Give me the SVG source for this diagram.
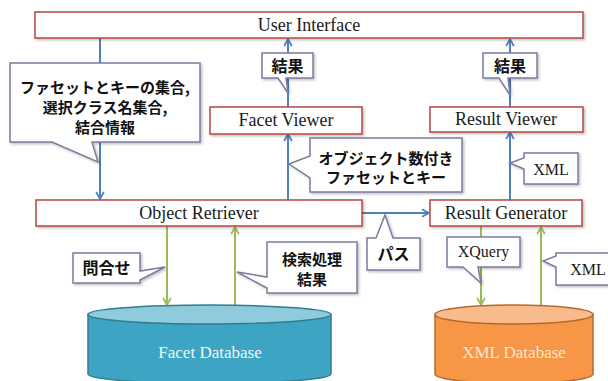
<svg xmlns="http://www.w3.org/2000/svg" width="608" height="381" viewBox="0 0 608 381">
<style>
.box{fill:#fff;stroke:#b9504d;stroke-width:1.6;filter:url(#sh)}
.en{font-family:"Liberation Serif","Times New Roman",serif;font-size:18px;fill:#1a1a1a;text-anchor:middle}
.ens{font-family:"Liberation Serif","Times New Roman",serif;font-size:16px;fill:#1a1a1a;text-anchor:middle}
.jp{font-family:"Noto Sans CJK JP","Noto Sans",sans-serif;font-weight:bold;font-size:16px;fill:#111;text-anchor:middle}
.jp15{font-size:15px}
.call{fill:#fff;stroke:#7b7ba0;stroke-width:1.5;stroke-linejoin:miter;filter:url(#sh)}
.blue{stroke:#4f81bd;stroke-width:2;fill:none;marker-end:url(#ab)}
.green{stroke:#9bbb59;stroke-width:2;fill:none;marker-end:url(#ag)}
.dbt{font-family:"Liberation Serif","Times New Roman",serif;font-size:17px;text-anchor:middle}
</style>
<defs>
<filter id="sh" x="-10%" y="-20%" width="130%" height="150%">
<feDropShadow dx="1.5" dy="1.5" stdDeviation="1.2" flood-color="#000" flood-opacity="0.25"/>
</filter>
<marker id="ab" viewBox="0 0 10 10" refX="9" refY="5" markerWidth="10" markerHeight="10" markerUnits="userSpaceOnUse" orient="auto">
<path d="M2,1.2 L9,5 L2,8.8" fill="none" stroke="#4f81bd" stroke-width="1.8"/>
</marker>
<marker id="ag" viewBox="0 0 10 10" refX="9" refY="5" markerWidth="10" markerHeight="10" markerUnits="userSpaceOnUse" orient="auto">
<path d="M2,1.2 L9,5 L2,8.8" fill="none" stroke="#9bbb59" stroke-width="1.8"/>
</marker>
</defs>
<rect width="608" height="381" fill="#fff"/>

<g id="connectors">
<line class="blue" x1="100" y1="38" x2="100" y2="199"/>
<line class="blue" x1="288" y1="107" x2="288" y2="39"/>
<line class="blue" x1="288" y1="200" x2="288" y2="134"/>
<line class="blue" x1="510" y1="200" x2="510" y2="132"/>
<line class="blue" x1="510" y1="107" x2="510" y2="39"/>
<line class="blue" x1="362" y1="213" x2="429" y2="213"/>
<line class="green" x1="167" y1="226" x2="167" y2="305"/>
<line class="green" x1="235" y1="305" x2="235" y2="227"/>
<line class="green" x1="481" y1="226" x2="481" y2="305"/>
<line class="green" x1="541" y1="305" x2="541" y2="227"/>
</g>

<g id="user-interface">
<rect class="box" x="35" y="12" width="548" height="26"/>
<text class="en" x="309" y="31">User Interface</text>
</g>
<g id="facet-viewer">
<rect class="box" x="210" y="107" width="152" height="27"/>
<text class="en" x="286" y="126">Facet Viewer</text>
</g>
<g id="result-viewer">
<rect class="box" x="430" y="107" width="153" height="25"/>
<text class="en" x="506" y="125">Result Viewer</text>
</g>
<g id="object-retriever">
<rect class="box" x="36" y="200" width="326" height="26"/>
<text class="en" x="199" y="219">Object Retriever</text>
</g>
<g id="result-generator">
<rect class="box" x="430" y="200" width="152" height="26"/>
<text class="en" x="506" y="219">Result Generator</text>
</g>

<g id="facet-database">
<path d="M88,314.5 L88,374 A121.5,9.5 0 0 0 331,374 L331,314.5 Z" fill="#3da5c3" stroke="#2f7d94" stroke-width="1.5"/>
<ellipse cx="209.5" cy="314.5" rx="121.5" ry="9.5" fill="#8fcbdc" stroke="#2f7d94" stroke-width="1.5"/>
<text class="dbt" x="210" y="358" fill="#eef7fa">Facet Database</text>
</g>
<g id="xml-database">
<path d="M435,314.5 L435,374 A79,9.5 0 0 0 593,374 L593,314.5 Z" fill="#f79646" stroke="#b8682c" stroke-width="1.5"/>
<ellipse cx="514" cy="314.5" rx="79" ry="9.5" fill="#fabb8c" stroke="#b8682c" stroke-width="1.5"/>
<text class="dbt" x="514" y="358" fill="#fde6d4">XML Database</text>
</g>

<g id="label-sets">
<path class="call" d="M10,63 H200 V142 H92 L98,162 L52,142 H10 Z"/>
<text class="jp jp15" x="105" y="93">ファセットとキーの集合,</text>
<text class="jp jp15" x="105" y="113">選択クラス名集合,</text>
<text class="jp jp15" x="105" y="133">結合情報</text>
</g>
<g id="label-result-fv">
<path class="call" d="M262,53 H313 V78 H286 L288,93 L278,78 H262 Z"/>
<text class="jp" x="287.5" y="71.5">結果</text>
</g>
<g id="label-result-rv">
<path class="call" d="M483,53 H537 V78 H508 L510,95 L499,78 H483 Z"/>
<text class="jp" x="510" y="71.5">結果</text>
</g>
<g id="label-facets-keys">
<path class="call" d="M310,138 H462 V192 H310 V178 L289,164 L310,156 Z"/>
<text class="jp jp15" x="386" y="163.5">オブジェクト数付き</text>
<text class="jp jp15" x="386" y="183">ファセットとキー</text>
</g>
<g id="label-xml-upper">
<path class="call" d="M524,153 H578 V184 H524 V169 L510,163 L524,158 Z"/>
<text class="ens" x="551" y="174.5">XML</text>
</g>
<g id="label-query">
<path class="call" d="M73,253 H140 V271 L165,267 L140,280 V283 H73 Z"/>
<text class="jp" x="106.5" y="273.5">問合せ</text>
</g>
<g id="label-search-result">
<path class="call" d="M267,242 H357 V293 H267 V288 L237,272 L267,277 Z"/>
<text class="jp jp15" x="312" y="264.5">検索処理</text>
<text class="jp jp15" x="312" y="285">結果</text>
</g>
<g id="label-path">
<path class="call" d="M367,238 H376 L385,215 L393,238 H420 V270 H367 Z"/>
<text class="jp" x="393.5" y="260">パス</text>
</g>
<g id="label-xquery">
<path class="call" d="M447,237 H520 V267 H478 L481,283 L463,267 H447 Z"/>
<text class="ens" x="483.5" y="257">XQuery</text>
</g>
<g id="label-xml-lower">
<path class="call" d="M556,253 H612 V285 H556 V267 L543,261 L556,256 Z"/>
<text class="ens" x="588" y="274.5">XML</text>
</g>
</svg>
